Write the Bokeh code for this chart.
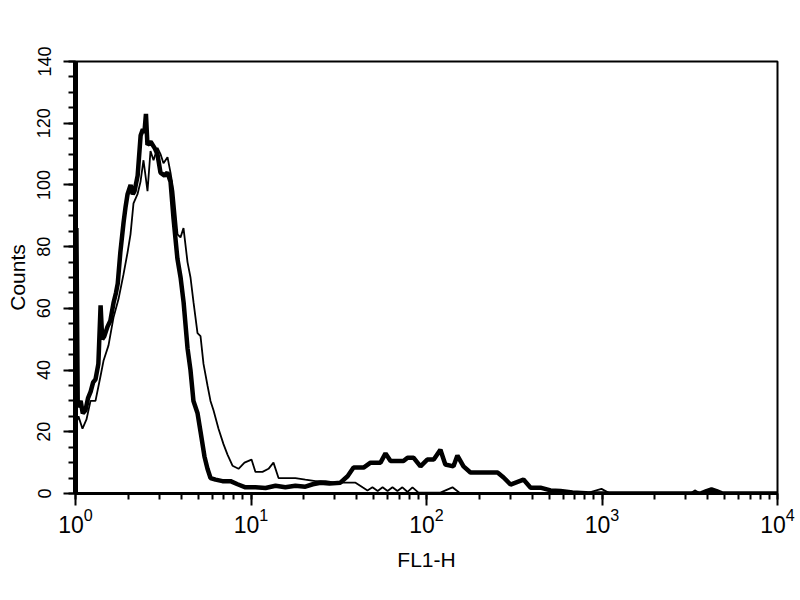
from bokeh.plotting import figure
from bokeh.models import SingleIntervalTicker, LogTicker, Range1d
from bokeh.embed import file_html
from bokeh.resources import INLINE

# ---- data (FL1-H, counts) ----
thick_x = [1.012, 1.03, 1.07, 1.10, 1.14, 1.18, 1.22, 1.26, 1.30, 1.35, 1.39, 1.42, 1.46, 1.52,
           1.58, 1.65, 1.70, 1.74, 1.80, 1.88, 1.93, 1.98, 2.06, 2.12, 2.17, 2.26, 2.35, 2.42,
           2.47, 2.52, 2.57, 2.68, 2.82, 2.93, 3.05, 3.22, 3.34, 3.48, 3.62, 3.81, 3.97, 4.13,
           4.35, 4.52, 4.70, 4.96, 5.16, 5.43, 5.65, 5.88, 6.28, 6.88, 7.64, 8.38, 9.30, 10.6,
           12.1, 13.8, 15.7, 17.9, 20.4, 22.5, 24.9, 28.0, 32.3, 35.5, 38.4, 43.8, 48.0, 54.7,
           58.4, 62.4, 73.9, 78.0, 84.3, 92.4, 101, 110, 120, 128, 142.5, 150, 162.5, 178, 254,
           275, 301, 357, 392, 446, 509, 580, 679, 860, 3640, 3940, 4207, 4494, 4860, 10000]
thick_counts = [86, 28, 30, 26, 27, 31, 33, 36, 37, 42, 61, 50, 51, 54,
                56, 62, 65, 68, 78, 88, 93, 97, 100, 97, 98, 103, 116, 118,
                117, 123, 113, 114, 112, 110, 104, 103, 104, 101, 89, 76, 70, 62,
                47, 40, 30, 26, 20, 12, 8, 5, 4.5, 4, 4, 3, 2, 2,
                1.8, 2.5, 2, 2.5, 2.2, 3, 3.5, 3.2, 3.5, 5.6, 8.4, 8.4, 10, 10,
                13, 10.5, 10.5, 11.6, 11.6, 8.8, 11, 11, 14.2, 9.4, 8.8, 12.3, 8.8, 6.8, 6.8,
                5.2, 2.9, 4.5, 1.9, 1.9, 1.0, 0.8, 0.3, 0, 0, 0.8, 1.3, 0.8, 0, 0]

thin_x = [1.00, 1.04, 1.096, 1.155, 1.218, 1.30, 1.388, 1.444, 1.542, 1.646, 1.758, 1.877,
          1.978, 2.058, 2.140, 2.256, 2.346, 2.44, 2.572, 2.675, 2.783, 2.933, 3.05, 3.172,
          3.344, 3.478, 3.617, 3.813, 3.966, 4.125, 4.347, 4.522, 4.703, 4.957, 5.156, 5.362,
          5.651, 5.877, 6.114, 6.529, 6.97, 7.346, 7.845, 8.49, 9.18, 10.07, 10.6, 11.63,
          12.58, 13.43, 14.35, 15.7, 17.9, 20.4, 23.3, 26.6, 30.3, 34.6, 39.4, 43.2, 46.1,
          49.2, 52.7, 56.2, 60, 64, 68.3, 72.9, 78, 83.2, 90, 120, 140.6, 156, 805, 993,
          1113, 3194, 3380, 3641, 10000]
thin_counts = [22, 25, 21, 24, 30, 30, 38, 43, 48, 57, 63, 71,
               78, 84, 94, 97, 101, 108, 98, 111, 108, 112, 110, 107,
               109, 104, 98, 84, 83, 86, 75, 70, 62, 52, 51, 42,
               35, 30, 27, 21, 16, 12.6, 9, 8, 10, 11, 7, 7,
               8, 10, 5, 5, 5, 4.5, 4, 4, 3.5, 3.5, 3.5, 2, 1,
               2, 0.8, 2, 0.8, 2, 0.8, 2, 0.5, 2, 0.3, 0.3, 2, 0, 0, 1.5,
               0, 0, 1, 0, 0]

x_label = "FL1-H"
y_label = "Counts"
x_start, x_end = 1, 10000
y_start, y_end = 0, 140

FONT = "Liberation Sans"

p = figure(x_axis_type="log", output_backend="svg", toolbar_location=None,
           frame_width=702, frame_height=432,
           min_border_left=75, min_border_top=61, min_border_right=20, min_border_bottom=100,
           x_range=Range1d(x_start, x_end), y_range=Range1d(y_start, y_end),
           background_fill_color="white", border_fill_color="white")

p.line(thin_x, thin_counts, line_color="black", line_width=1.8)
p.line(thick_x, thick_counts, line_color="black", line_width=4.5)

p.grid.visible = False
p.outline_line_color = "black"
p.outline_line_width = 2

# y axis
p.yaxis.ticker = SingleIntervalTicker(interval=20, num_minor_ticks=4)
p.yaxis.major_label_orientation = "vertical"
p.yaxis.axis_line_width = 5
p.yaxis.major_tick_out = 12
p.yaxis.major_tick_in = 0
p.yaxis.minor_tick_out = 7
p.yaxis.minor_tick_in = 0
p.yaxis.major_tick_line_width = 2
p.yaxis.minor_tick_line_width = 2
p.yaxis.major_label_text_font = FONT
p.yaxis.major_label_text_font_size = "18px"
p.yaxis.major_label_standoff = 13
p.yaxis.axis_label = y_label
p.yaxis.axis_label_text_font = FONT
p.yaxis.axis_label_text_font_size = "21px"
p.yaxis.axis_label_text_font_style = "normal"
p.yaxis.axis_label_standoff = 6

# x axis
p.xaxis.ticker = LogTicker(num_minor_ticks=10)
p.xaxis.axis_line_width = 3
p.xaxis.major_tick_out = 12
p.xaxis.major_tick_in = 0
p.xaxis.minor_tick_out = 6
p.xaxis.minor_tick_in = 0
p.xaxis.major_tick_line_width = 2
p.xaxis.minor_tick_line_width = 2
p.xaxis.major_label_text_font = FONT
p.xaxis.major_label_text_font_size = "23px"
p.xaxis.major_label_standoff = 2
p.xaxis.axis_label = x_label
p.xaxis.axis_label_text_font = FONT
p.xaxis.axis_label_text_font_size = "21px"
p.xaxis.axis_label_text_font_style = "normal"
p.xaxis.axis_label_standoff = 12

for ax in (p.xaxis, p.yaxis):
    ax.axis_line_color = "black"
    ax.major_tick_line_color = "black"
    ax.minor_tick_line_color = "black"
    ax.major_label_text_color = "black"
    ax.axis_label_text_color = "black"

open("out.html", "w").write(file_html(p, INLINE))
